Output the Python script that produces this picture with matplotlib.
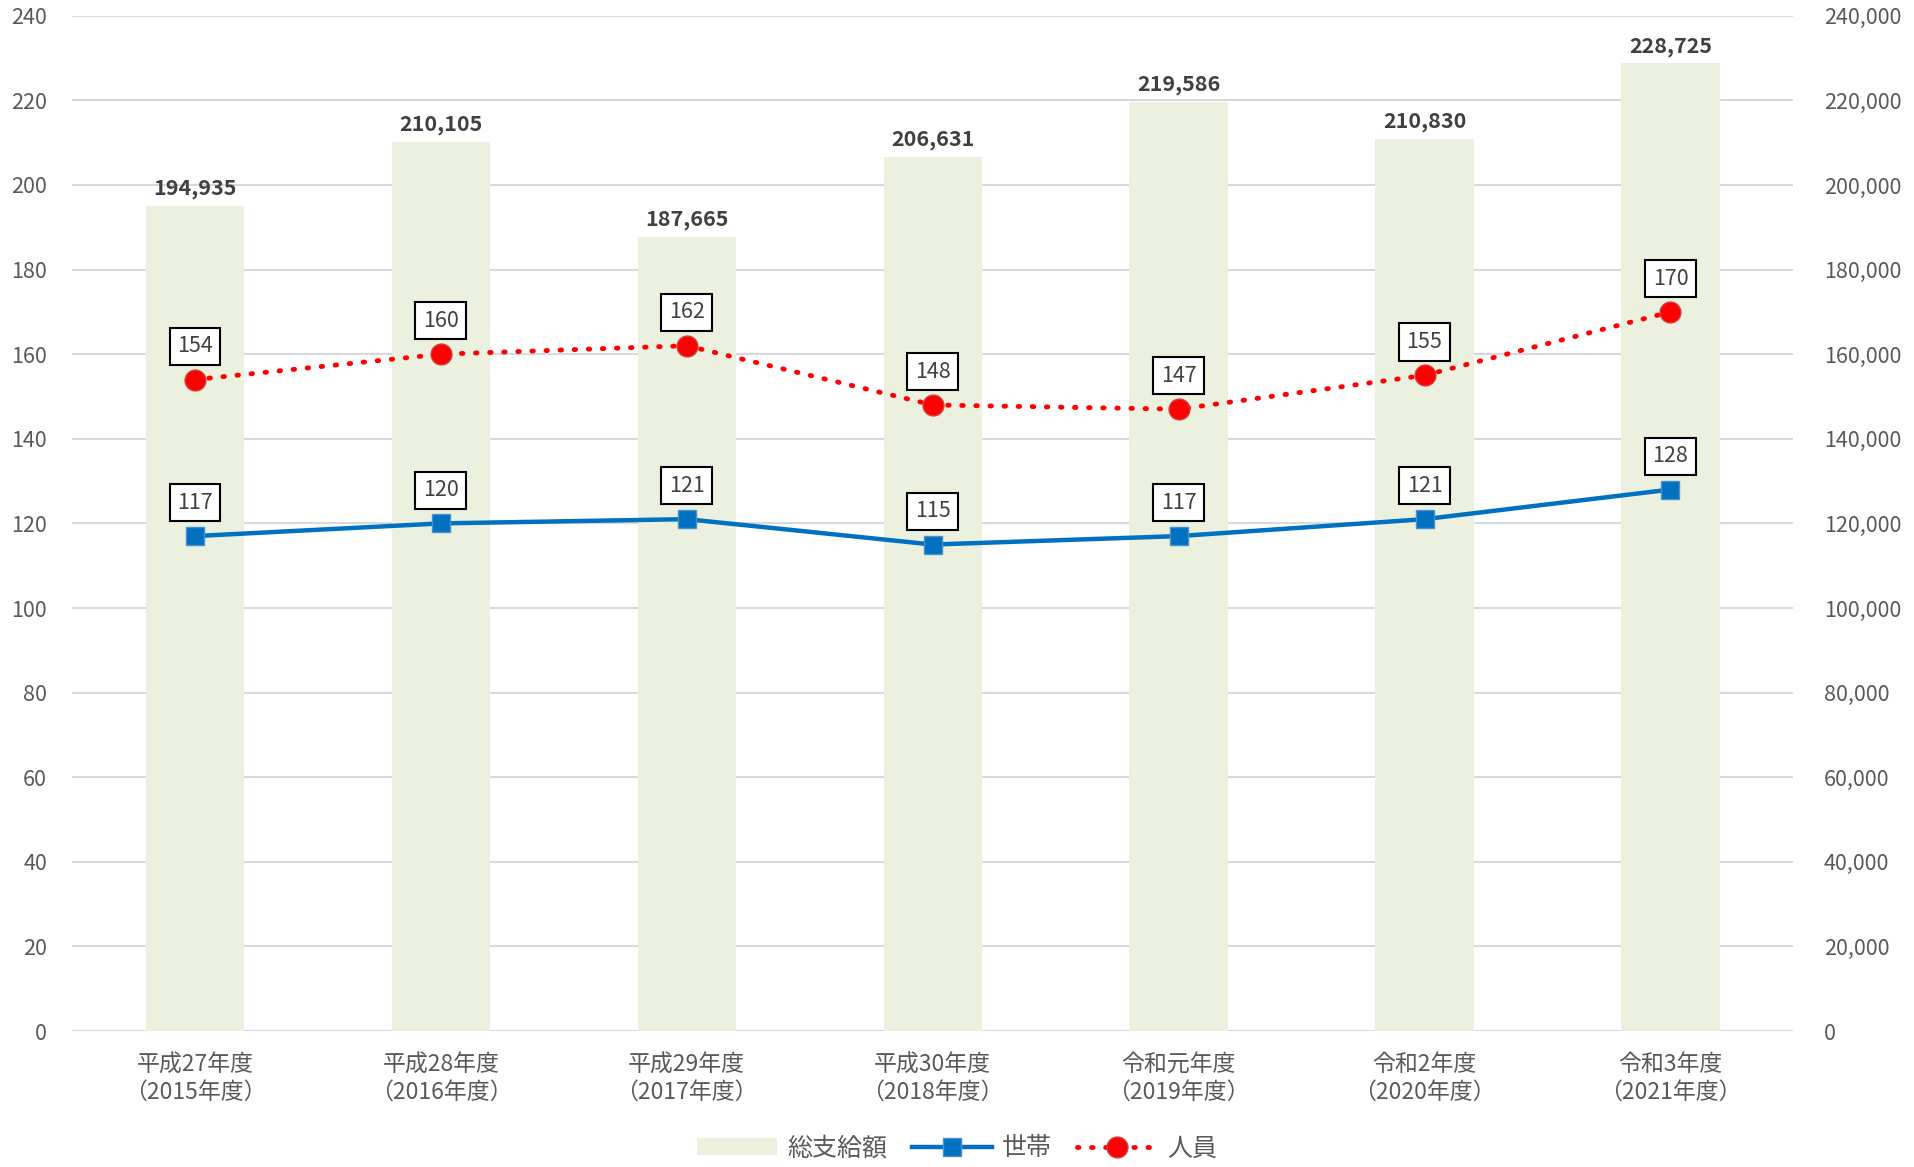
import matplotlib
matplotlib.use("Agg")
import matplotlib.pyplot as plt
from matplotlib.patches import Patch
from matplotlib.lines import Line2D
from matplotlib.ticker import FuncFormatter, MultipleLocator

plt.rcParams['font.family'] = ['Noto Sans CJK JP', 'DejaVu Sans']

categories = ["平成27年度\n（2015年度）", "平成28年度\n（2016年度）", "平成29年度\n（2017年度）",
              "平成30年度\n（2018年度）", "令和元年度\n（2019年度）", "令和2年度\n（2020年度）",
              "令和3年度\n（2021年度）"]
total_payment = [194935, 210105, 187665, 206631, 219586, 210830, 228725]
households = [117, 120, 121, 115, 117, 121, 128]
persons = [154, 160, 162, 148, 147, 155, 170]

TXT = '#595959'
fig = plt.figure(figsize=(19.14, 11.67), dpi=100)
axb = fig.add_axes([0.0376, 0.1165, 0.937 - 0.0376, 0.9865 - 0.1165])
axl = axb.twinx()

x = list(range(len(categories)))

axb.bar(x, total_payment, width=0.40, color='#EBF1DE', zorder=2)
axb.set_ylim(0, 240000)
axb.yaxis.set_major_locator(MultipleLocator(20000))
axb.yaxis.set_major_formatter(FuncFormatter(lambda v, p: f"{int(v):,}"))
axb.yaxis.tick_right()
axb.grid(axis='y', color='#D9D9D9', linewidth=1.5, zorder=0)
axb.set_axisbelow(True)
for xi, v in zip(x, total_payment):
    axb.annotate(f"{v:,}", (xi, v), xytext=(0, 5), textcoords='offset points',
                 ha='center', va='bottom', fontsize=15.5, fontweight='bold', color='#404040')

axl.yaxis.tick_left()
axl.set_ylim(0, 240)
axl.yaxis.set_major_locator(MultipleLocator(20))
axl.plot(x, households, color='#0070C0', linewidth=3.2, marker='s', markersize=13,
         markerfacecolor='#0070C0', markeredgecolor='#4A8FD0', markeredgewidth=1, zorder=5)
axl.plot(x, persons, color='#FF0000', linewidth=3.5, linestyle=(0, (0.3, 2.6)),
         dash_capstyle='round', marker='o', markersize=15, markerfacecolor='#FF0000',
         markeredgecolor='#D04040', markeredgewidth=1, zorder=5)
for series in (households, persons):
    for xi, v in zip(x, series):
        axl.annotate(f"{v}", (xi, v), xytext=(0, 24), textcoords='offset points',
                     ha='center', va='center', fontsize=15.5, color='#404040',
                     bbox=dict(boxstyle='square,pad=0.35', fc='white', ec='black', lw=1.5), zorder=6)

for a in (axb, axl):
    for s in a.spines.values():
        s.set_visible(False)
    a.tick_params(axis='y', length=0, labelsize=15.5, labelcolor=TXT)
axb.tick_params(axis='y', pad=22)
axl.tick_params(axis='y', pad=18)
axb.set_xlim(-0.5, 6.5)
axb.set_xticks(x)
axb.set_xticklabels(categories, fontsize=16.5, color=TXT, linespacing=1.25)
axb.tick_params(axis='x', length=0, pad=16)

handles = [Patch(facecolor='#EBF1DE', edgecolor='none'),
           Line2D([0], [0], color='#0070C0', linewidth=3.2, marker='s', markersize=13,
                  markeredgecolor='#4A8FD0'),
           Line2D([0], [0], color='#FF0000', linewidth=3.5, linestyle=(0, (0.3, 2.6)),
                  dash_capstyle='round', marker='o', markersize=15, markeredgecolor='#D04040')]
fig.legend(handles, ["総支給額", "世帯", "人員"], loc='center', bbox_to_anchor=(0.5, 0.016),
           ncol=3, frameon=False, fontsize=18, labelcolor=TXT, handlelength=3.2,
           columnspacing=1.0, handletextpad=0.4)

fig.savefig('out.png', dpi=100)
